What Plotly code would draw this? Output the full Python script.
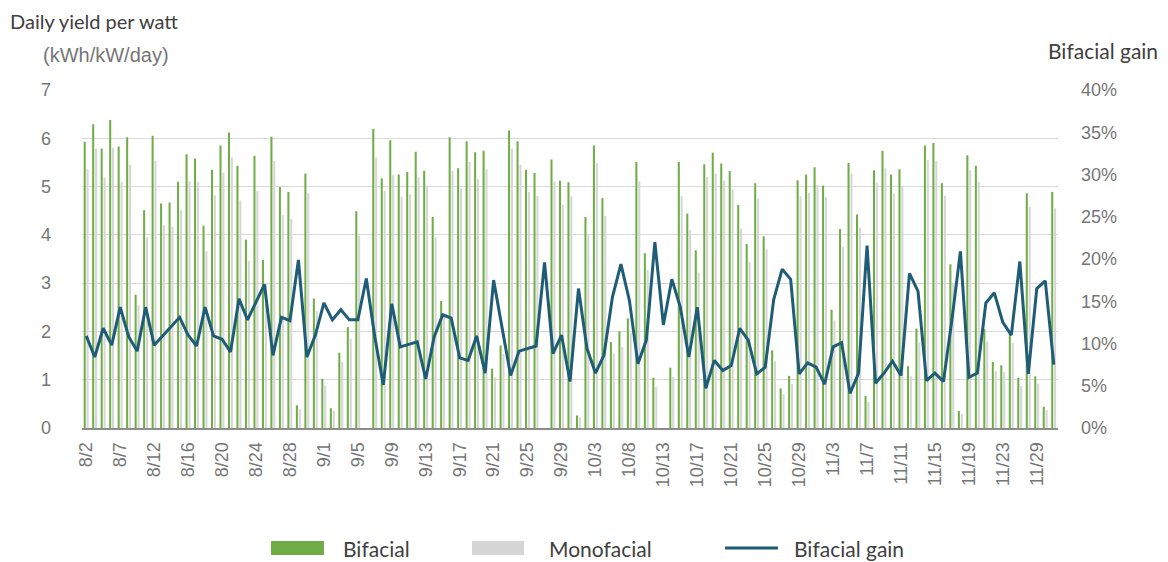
import plotly.graph_objects as go

# ---------------- data ----------------
dates = [
    "8/2", "8/3", "8/4", "8/5", "8/7", "8/8", "8/9", "8/10", "8/12", "8/13", "8/14", "8/15",
    "8/16", "8/17", "8/18", "8/19", "8/20", "8/21", "8/22", "8/23", "8/24", "8/25", "8/26", "8/27",
    "8/28", "8/29", "8/30", "8/31", "9/1", "9/2", "9/3", "9/4", "9/5", "9/6", "9/7", "9/8",
    "9/9", "9/10", "9/11", "9/12", "9/13", "9/14", "9/15", "9/16", "9/17", "9/18", "9/19", "9/20",
    "9/21", "9/22", "9/23", "9/24", "9/25", "9/26", "9/27", "9/28", "9/29", "9/30", "10/1", "10/2",
    "10/3", "10/4", "10/5", "10/6", "10/8", "10/9", "10/10", "10/11", "10/13", "10/14", "10/15", "10/16",
    "10/17", "10/18", "10/19", "10/20", "10/21", "10/22", "10/23", "10/24", "10/25", "10/26", "10/27", "10/28",
    "10/29", "10/30", "10/31", "11/1", "11/3", "11/4", "11/5", "11/6", "11/7", "11/8", "11/9", "11/10",
    "11/11", "11/12", "11/13", "11/14", "11/15", "11/16", "11/17", "11/18", "11/19", "11/20", "11/21", "11/22",
    "11/23", "11/24", "11/25", "11/26", "11/29", "11/30", "12/1",
]

bifacial = [
    5.93, 6.29, 5.79, 6.38, 5.83, 6.02, 2.76, 4.51, 6.05, 4.65, 4.67, 5.10,
    5.67, 5.58, 4.19, 5.35, 5.85, 6.12, 5.43, 3.90, 5.64, 3.48, 6.03, 4.99,
    4.89, 0.47, 5.27, 2.68, 1.02, 0.41, 1.56, 2.09, 4.49, None, 6.19, 5.17,
    5.96, 5.25, 5.30, 5.72, 5.33, 4.37, 2.63, 6.02, 5.38, 5.94, 5.71, 5.74,
    1.23, 1.71, 6.16, 5.94, 5.35, 5.28, None, 5.56, 5.12, 5.09, 0.26, 4.37,
    5.85, 4.76, 1.78, 2.00, 2.27, 5.51, 3.62, 1.04, None, 1.25, 5.51, 4.44,
    3.68, 5.46, 5.70, 5.48, 5.32, 4.62, 3.81, 5.07, 3.97, 1.61, 0.82, 1.08,
    5.13, 5.25, 5.40, 5.02, 2.45, 4.12, 5.49, 4.42, 0.66, 5.34, 5.74, 5.25,
    5.36, 1.28, 2.06, 5.85, 5.90, 5.07, 3.39, 0.35, 5.65, 5.43, 2.05, 1.37,
    1.30, 1.95, 1.04, 4.86, 1.07, 0.44, 4.89,
]

monofacial = [
    5.36, 5.79, 5.19, 5.80, 5.10, 5.45, 2.54, 3.95, 5.53, 4.20, 4.17, 4.51,
    5.11, 5.09, 3.66, 4.82, 5.29, 5.60, 4.71, 3.46, 4.91, 2.98, 5.53, 4.41,
    4.33, 0.39, 4.86, 2.42, 0.88, 0.36, 1.37, 1.85, 3.98, None, 5.60, 4.91,
    5.24, 4.79, 4.84, 5.19, 5.02, 3.95, 2.33, 5.33, 4.96, 5.51, 5.16, 5.36,
    1.05, 1.53, 5.79, 5.45, 4.89, 4.81, None, 5.10, 4.62, 4.80, 0.22, 3.99,
    5.49, 4.39, 1.54, 1.68, 1.97, 5.11, 3.27, 0.85, None, 1.06, 4.80, 4.10,
    3.22, 5.20, 5.27, 5.13, 4.94, 4.13, 3.44, 4.75, 3.70, 1.38, 0.70, 0.91,
    4.80, 4.87, 5.03, 4.78, 2.23, 3.75, 5.27, 4.15, 0.54, 5.08, 5.38, 4.86,
    5.02, 1.07, 1.77, 5.55, 5.53, 4.81, 3.01, 0.29, 5.34, 5.10, 1.79, 1.18,
    1.16, 1.76, 0.87, 4.58, 0.92, 0.37, 4.55,
]

gain_pct = [
    10.9, 8.4, 11.8, 9.8, 14.3, 10.8, 9.1, 14.3, 9.8, 10.9, 12.0, 13.1,
    11.0, 9.7, 14.3, 10.9, 10.5, 9.0, 15.3, 12.8, 14.9, 17.0, 8.6, 13.1,
    12.7, 19.9, 8.4, 11.0, 14.8, 12.8, 14.0, 12.8, 12.8, 17.7, 10.8, 5.1,
    14.7, 9.6, 9.9, 10.2, 5.8, 10.8, 13.4, 13.0, 8.3, 8.0, 10.9, 6.5,
    17.5, 12.0, 6.2, 9.1, 9.4, 9.7, 19.6, 8.8, 11.0, 5.5, 16.5, 9.4,
    6.5, 8.6, 15.5, 19.4, 15.1, 7.6, 10.4, 22.0, 12.2, 17.6, 14.3, 8.4,
    14.3, 4.7, 8.0, 6.8, 7.4, 11.8, 10.4, 6.4, 7.2, 15.2, 18.8, 17.6,
    6.4, 7.7, 7.2, 5.2, 9.6, 10.1, 4.1, 6.5, 21.6, 5.3, 6.5, 7.9,
    6.2, 18.3, 16.2, 5.6, 6.5, 5.5, 12.8, 20.9, 6.0, 6.5, 14.8, 16.0,
    12.5, 11.0, 19.7, 6.4, 16.5, 17.4, 7.5,
]

tick_labels = dates[::4]

# ---------------- layout helpers ----------------
# The page body adds an 8px margin, so the figure is made 8px smaller and
# every reference pixel position is shifted by that offset.
OFF = 8
W, H = 1168 - OFF, 562 - OFF
L, R, T, B = 82 - OFF, 1058 - OFF, 90 - OFF, 428 - OFF


def px(x):
    return (x - OFF - L) / (R - L)


def py(y):
    return (B - (y - OFF)) / (B - T)


GREEN = "#70AD47"
GREY = "#D6D6D6"
BLUE = "#1F5C75"
TICKFONT = dict(family="Liberation Sans, Arial, sans-serif", size=18, color="#767676")
TXTFONT = "Lato, Carlito, Noto Sans, sans-serif"

fig = go.Figure()
fig.add_trace(go.Bar(x=dates, y=bifacial, name="Bifacial", marker=dict(color=GREEN, line=dict(width=0)),
                     width=0.24, offset=-0.30, showlegend=False))
fig.add_trace(go.Bar(x=dates, y=monofacial, name="Monofacial", marker=dict(color=GREY, line=dict(width=0)),
                     width=0.24, offset=0.04, showlegend=False))
fig.add_trace(go.Scatter(x=dates, y=[g / 100 for g in gain_pct], yaxis="y2", mode="lines",
                         line=dict(color=BLUE, width=3), name="Bifacial gain", showlegend=False))

fig.update_layout(
    width=W, height=H, autosize=False,
    margin=dict(l=L, r=W - R, t=T, b=H - B, pad=0),
    plot_bgcolor="white", paper_bgcolor="white",
    barmode="overlay", showlegend=False,
    xaxis=dict(type="category", range=[-0.5, len(dates) - 0.5], tickmode="array",
               tickvals=tick_labels, ticktext=tick_labels, tickangle=-90,
               showgrid=False, showline=True, linecolor="#8C8C8C", linewidth=2,
               ticks="", tickfont=TICKFONT, ticklabelstandoff=5),
    yaxis=dict(range=[0, 7], tick0=0, dtick=1, showgrid=True, gridcolor="#D9D9D9", gridwidth=1,
               zeroline=False, showline=False, ticks="", tickfont=TICKFONT, ticklabelstandoff=30),
    yaxis2=dict(overlaying="y", side="right", range=[0, 0.40], tick0=0, dtick=0.05, tickformat=".0%",
                showgrid=False, zeroline=False, showline=False, ticks="", tickfont=TICKFONT,
                ticklabelstandoff=22),
)

# axis titles
fig.add_annotation(text="Daily yield per watt", xref="paper", yref="paper", x=px(9), y=py(21),
                   xanchor="left", yanchor="middle", showarrow=False, borderpad=0,
                   font=dict(family=TXTFONT, size=20, color="#404040"))
fig.add_annotation(text="(kWh/kW/day)", xref="paper", yref="paper", x=px(41), y=py(55),
                   xanchor="left", yanchor="middle", showarrow=False,
                   font=dict(family="Liberation Sans, Arial, sans-serif", size=20, color="#767676"))
fig.add_annotation(text="Bifacial gain", xref="paper", yref="paper", x=px(1046), y=py(50),
                   xanchor="left", yanchor="middle", showarrow=False,
                   font=dict(family=TXTFONT, size=21, color="#404040"))

# legend (drawn manually to match the wide swatches)
LY = 548
fig.add_shape(type="rect", xref="paper", yref="paper", x0=px(271), x1=px(324), y0=py(LY + 7), y1=py(LY - 7),
              fillcolor=GREEN, line=dict(width=0))
fig.add_shape(type="rect", xref="paper", yref="paper", x0=px(472), x1=px(524), y0=py(LY + 7), y1=py(LY - 7),
              fillcolor=GREY, line=dict(width=0))
fig.add_shape(type="line", xref="paper", yref="paper", x0=px(725), x1=px(778), y0=py(LY), y1=py(LY),
              line=dict(color=BLUE, width=3))
for txt, x in [("Bifacial", 341), ("Monofacial", 547), ("Bifacial gain", 792)]:
    fig.add_annotation(text=txt, xref="paper", yref="paper", x=px(x), y=py(LY),
                       xanchor="left", yanchor="middle", showarrow=False,
                       font=dict(family=TXTFONT, size=21, color="#404040"))

fig.write_html("out.html")
